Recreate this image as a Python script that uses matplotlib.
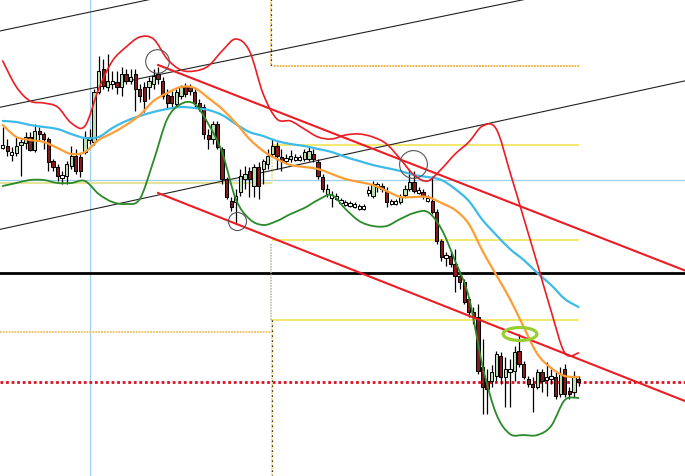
import matplotlib
matplotlib.use("Agg")
import matplotlib.pyplot as plt
from matplotlib.patches import Ellipse, PathPatch
from matplotlib.path import Path

# price levels (screen-style scale: smaller value = higher price)
opens = [148, 147, 153, 154, 146, 144, 138, 151, 132, 135, 140, 162, 168, 176, 177, 167, 157, 158, 153, 141,
         143, 93, 70, 88, 84, 83, 88, 75, 82, 75, 90, 88, 88, 85, 75, 82, 96, 97, 105, 97,
         87, 88, 93, 104, 108, 136, 140, 125, 150, 180, 202, 203, 193, 180, 172, 187, 168, 170, 165, 155,
         147, 158, 161, 160, 160, 160, 160, 160, 155, 163, 178, 195, 198, 199, 203, 205, 206, 207, 209, 209,
         193, 197, 186, 187, 192, 204, 204, 203, 196, 190, 183, 193, 193, 201, 202, 213, 242, 258, 257, 265,
         277, 283, 300, 313, 318, 368, 382, 382, 377, 357, 378, 372, 372, 352, 365, 380, 385, 388, 373, 380,
         377, 378, 395, 370, 392, 393, 380]
closes = [146, 152, 155, 147, 143, 138, 151, 132, 135, 140, 163, 168, 177, 178, 165, 157, 172, 172, 138, 138,
          93, 72, 87, 82, 82, 88, 75, 82, 78, 90, 97, 102, 82, 77, 80, 97, 104, 104, 93, 88,
          95, 92, 104, 108, 135, 140, 125, 148, 180, 198, 208, 197, 177, 175, 180, 168, 187, 162, 157, 147,
          157, 162, 159, 157, 158, 158, 153, 152, 160, 177, 190, 190, 196, 197, 201, 203, 204, 205, 207, 207,
          191, 185, 185, 190, 203, 202, 202, 198, 190, 183, 192, 191, 197, 199, 213, 242, 258, 256, 265, 277,
          283, 303, 313, 318, 372, 388, 390, 373, 355, 378, 370, 370, 353, 365, 378, 385, 388, 373, 382, 378,
          378, 397, 375, 395, 395, 378, 383]
highs = [128, 140, 148, 138, 140, 133, 133, 125, 128, 133, 138, 160, 165, 172, 162, 147, 150, 155, 132, 130,
         90, 57, 60, 55, 72, 72, 68, 70, 70, 70, 85, 83, 78, 70, 68, 78, 90, 92, 90, 86,
         84, 85, 90, 100, 105, 130, 122, 122, 148, 178, 198, 190, 170, 167, 168, 165, 163, 160, 150, 140,
         143, 150, 155, 151, 155, 156, 150, 148, 150, 160, 175, 185, 192, 194, 199, 201, 202, 203, 205, 205,
         187, 182, 183, 184, 188, 200, 200, 195, 186, 170, 172, 188, 190, 196, 177, 210, 240, 253, 252, 250,
         272, 280, 298, 308, 305, 340, 370, 366, 352, 353, 358, 360, 347, 335, 362, 377, 378, 370, 370, 363,
         370, 373, 368, 365, 388, 372, 377]
lows = [150, 157, 162, 157, 177, 150, 152, 153, 142, 150, 172, 172, 182, 185, 185, 170, 175, 178, 155, 145,
        146, 95, 90, 92, 90, 95, 97, 85, 85, 112, 103, 113, 100, 90, 85, 100, 110, 108, 108, 100,
        98, 96, 108, 112, 140, 150, 145, 150, 185, 200, 212, 225, 197, 190, 198, 198, 200, 185, 170, 158,
        170, 172, 165, 163, 162, 162, 162, 162, 163, 180, 193, 198, 208, 201, 205, 207, 208, 209, 211, 211,
        197, 199, 193, 193, 208, 206, 206, 205, 198, 192, 194, 195, 200, 203, 215, 245, 262, 267, 268, 293,
        290, 305, 318, 325, 375, 415, 415, 388, 382, 385, 408, 408, 382, 368, 380, 388, 413, 390, 393, 397,
        385, 400, 398, 398, 400, 398, 387]

# indicator lines, sampled every 3 bars
ind_x = list(range(0, 127, 3))
bb_upper = [62, 88, 102, 104, 108, 124, 127, 90, 62, 48, 38, 40, 60, 71, 72, 67, 52, 40, 52, 95,
            120, 122, 130, 138, 140, 136, 135, 138, 145, 160, 176, 182, 170, 155, 143, 127, 130, 173, 219, 265,
            312, 354, 354]
bb_lower = [187, 184, 181, 181, 184, 184, 182, 195, 203, 205, 200, 162, 120, 105, 105, 125, 153, 200, 220, 226,
            222, 215, 209, 201, 196, 210, 222, 227, 227, 220, 214, 213, 230, 262, 298, 367, 415, 435, 436, 436,
            427, 401, 399]
ma_fast = [126, 138, 141, 143, 149, 155, 153, 141, 134, 126, 116, 102, 94, 88, 89, 99, 110, 124, 140, 152,
           160, 166, 168, 170, 175, 180, 183, 186, 192, 198, 198, 198, 204, 211, 225, 252, 276, 300, 328, 355,
           369, 377, 378]
ma_slow = [122, 123, 126, 128, 130, 135, 139, 138, 129, 122, 117, 113, 110, 108, 109, 111, 116, 125, 133, 137,
           142, 145, 147, 150, 153, 158, 162, 166, 169, 172, 176, 178, 181, 190, 202, 221, 236, 250, 261, 274,
           286, 300, 308]

# drawn objects
black_lines = [((0, 31.4), (30, 2.6)), ((0, 107.7), (100, 13.8)), ((0, 229.8), (100, 130.7))]
red_channel = [((34, 66), (126, 230)), ((34, 194), (126, 360))]
hline_black, hline_red, hline_blue = 274, 383, 181
vline_blue = 19
sep_bar, last_bar = 59, 126
levels_right = [146, 241, 321]
level_top = 67
level_left_pale, level_left_orange = 184, 333
circles = [(33.8, 62, 17), (51.3, 222, 13), (89.8, 165, 20)]
marker_ellipse = (113.2, 335)

XL = (-0.59, 149.3)


def smooth_line(ax, xs, ys, **kw):
    # Catmull-Rom curve through the read points, drawn as bezier segments
    pts = list(zip(xs, ys))
    verts, codes = [pts[0]], [Path.MOVETO]
    for i in range(len(pts) - 1):
        p0 = pts[max(i - 1, 0)]; p1 = pts[i]; p2 = pts[i + 1]; p3 = pts[min(i + 2, len(pts) - 1)]
        c1 = (p1[0] + (p2[0] - p0[0]) / 6, p1[1] + (p2[1] - p0[1]) / 6)
        c2 = (p2[0] - (p3[0] - p1[0]) / 6, p2[1] - (p3[1] - p1[1]) / 6)
        verts += [c1, c2, p2]; codes += [Path.CURVE4] * 3
    ax.add_patch(PathPatch(Path(verts, codes), fill=False, capstyle="round", joinstyle="round", **kw))


fig = plt.figure(figsize=(6.85, 4.77), dpi=100)
ax = fig.add_axes([0, 0, 1, 1])
ax.set_xlim(*XL)
ax.set_ylim(477, 0)
ax.axis("off")

# background levels
ax.axhline(hline_blue, color="#9fd0ee", lw=0.9, zorder=1)
ax.axvline(vline_blue, color="#9fd0ee", lw=0.9, zorder=1)
ax.axhline(hline_black, color="black", lw=2.0, zorder=1)
ax.axhline(hline_red, color="#dd1122", lw=2.0, ls=(0, (1, 1)), zorder=1)
for y in levels_right:
    ax.hlines(y, sep_bar, last_bar, color="#f2e04a", lw=1.1, zorder=1)
ax.hlines(level_top, sep_bar + 0.3, last_bar, color="#f0b030", lw=1.3, ls=(0, (1, 0.6)), zorder=1)
ax.hlines(level_left_pale, XL[0], sep_bar, color="#e6e49a", lw=1.5, zorder=1)
ax.hlines(level_left_orange, XL[0], sep_bar - 0.3, color="#e8c060", lw=1.3, ls=(0, (1, 0.6)), zorder=1)
ax.vlines(sep_bar - 0.2, 0, level_top, color="#f0c050", lw=1.3, ls=(0, (1, 0.6)), zorder=1)
ax.vlines(sep_bar - 0.2, 0, level_top, color="black", lw=0.9, ls=(0, (1, 3)), zorder=1)
ax.vlines(sep_bar, levels_right[0], level_left_pale, color="#dde6a0", lw=1.3, ls=(0, (1, 0.6)), zorder=1)
ax.vlines(sep_bar - 0.3, levels_right[1] + 4, levels_right[2], color="#b8b098", lw=1.1, ls=(0, (1, 0.8)), zorder=1)
ax.hlines(levels_right[2], sep_bar - 0.3, sep_bar, color="#c8c0a0", lw=1.1, zorder=1)
ax.vlines(sep_bar, levels_right[2], 477, color="#f0d870", lw=1.3, ls=(0, (1, 0.6)), zorder=1)
ax.vlines(sep_bar, levels_right[2], 477, color="black", lw=0.9, ls=(0, (1, 3)), zorder=1)

for p1, p2 in black_lines:
    ax.axline(p1, p2, color="#222222", lw=0.8, zorder=2)

# candles
for i, (o, h, l, c) in enumerate(zip(opens, highs, lows, closes)):
    ax.vlines(i, h, l, color="black", lw=0.9, zorder=3)
    if abs(o - c) <= 2:
        fc = "white"
    elif c < o:
        fc = "#bfe3b4"
    else:
        fc = "#8b1a1a"
    top, bot = min(o, c), max(o, c)
    if bot - top < 2.5:
        bot = top + 2.5
    ax.bar(i, bot - top, bottom=top, width=0.72, color=fc, edgecolor="black", lw=0.75, zorder=4)

# indicators
smooth_line(ax, ind_x, ma_slow, color="#3cbbe8", lw=1.6, zorder=5)
smooth_line(ax, ind_x, ma_fast, color="#ff9d35", lw=1.6, zorder=5)
smooth_line(ax, ind_x, bb_upper, color="#ec1c24", lw=1.2, zorder=5)
smooth_line(ax, ind_x, bb_lower, color="#2a8a2a", lw=1.3, zorder=5)

for (x1, y1), (x2, y2) in red_channel:
    k = (y2 - y1) / (x2 - x1)
    ax.plot([x1, XL[1] + 1], [y1, y1 + k * (XL[1] + 1 - x1)], color="#ec1c24", lw=1.5, zorder=6)

for x, y, ms in circles:
    ax.plot(x, y, "o", ms=ms, mfc="none", mec="#555555", mew=0.8, zorder=7)
ax.add_patch(Ellipse(marker_ellipse, width=7.4, height=13, fill=False, ec="#9acd32", lw=2.3, zorder=7))

fig.savefig("out.png", dpi=100)
